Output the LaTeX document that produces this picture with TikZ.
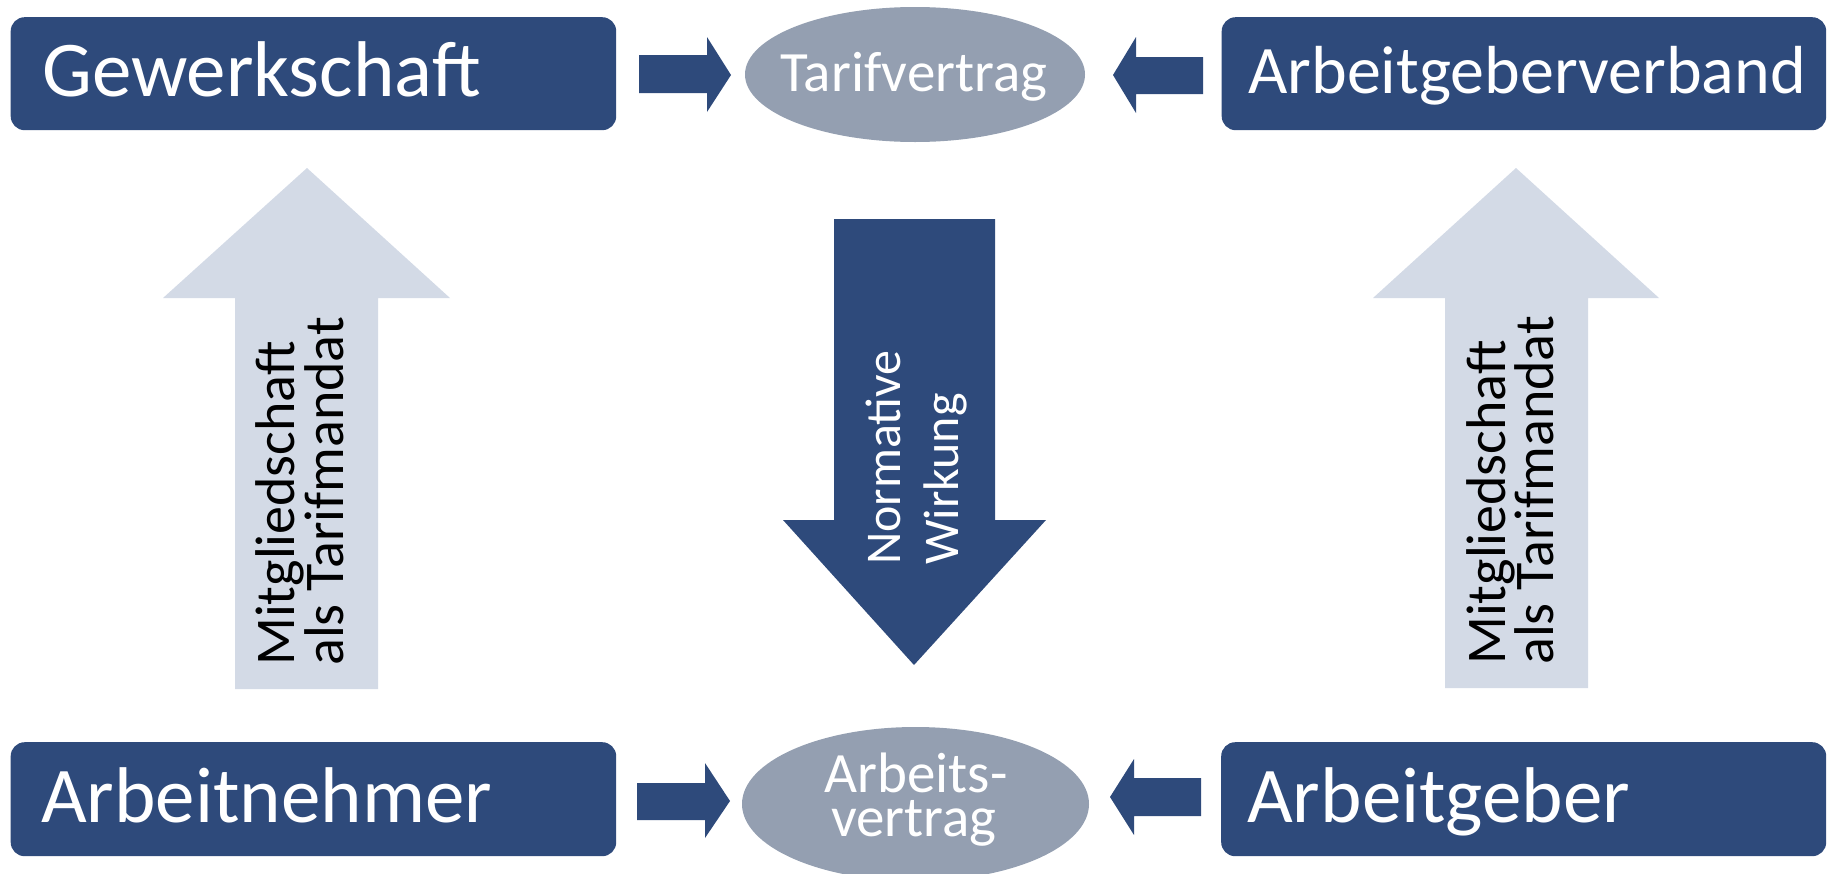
\documentclass[tikz,border=0pt]{standalone}
\usetikzlibrary{shapes.geometric}
\usepackage{fontspec}
\setmainfont{Carlito}
\definecolor{dblue}{HTML}{2E4A7B}
\definecolor{egray}{HTML}{949FB1}
\definecolor{lblue}{HTML}{D3DAE6}
\begin{document}
\begin{tikzpicture}[x=1pt,y=-1pt,
  box/.style={draw=none,fill=dblue,rounded corners=14pt,inner sep=0pt,anchor=north west},
  oval/.style={ellipse,fill=egray,inner sep=0pt},
  darrow/.style={fill=dblue},
  larrow/.style={fill=lblue},
  boxtext/.style={anchor=base west,text=white,inner sep=0pt},
  ovaltext/.style={anchor=base,text=white,inner sep=0pt,font=\fontsize{57}{57}\selectfont},
  uptext/.style={anchor=base west,rotate=90,inner sep=0pt,text=black,font=\fontsize{56}{56}\selectfont},
  downtext/.style={anchor=base west,rotate=90,inner sep=0pt,text=white,font=\fontsize{50}{50}\selectfont}]
\useasboundingbox (0,0) rectangle (1831,873);
% boxes
\node[box,minimum width=605.5pt,minimum height=113pt] (gew) at (10.5,17) {};
\node[box,minimum width=604.5pt,minimum height=113pt] (agv) at (1221.5,17) {};
\node[box,minimum width=605.5pt,minimum height=114pt] (an) at (10.5,742) {};
\node[box,minimum width=605pt,minimum height=114pt] (ag) at (1221,742) {};
\node[boxtext,font=\fontsize{79}{79}\selectfont] (gewt) at (42,96) {Gewerkschaft};
\node[boxtext,font=\fontsize{68}{68}\selectfont] (agvt) at (1248,93) {Arbeitgeberverband};
\node[boxtext,font=\fontsize{79}{79}\selectfont] (ant) at (41,822) {Arbeitnehmer};
\node[boxtext,font=\fontsize{79}{79}\selectfont] (agt) at (1247,822) {Arbeitgeber};
% ellipses
\node[oval,minimum width=340pt,minimum height=135pt] (tv) at (915,74.5) {};
\node[oval,minimum width=347pt,minimum height=154pt] (av) at (915.5,804) {};
\node[ovaltext] (tvt) at (914,91) {Tarifvertrag};
\node[ovaltext] (avt1) at (916,792) {Arbeits-};
\node[ovaltext] (avt2) at (914,836) {vertrag};
% horizontal block arrows
\path[darrow] (639,55) -- (707,55) -- (707,37) -- (731,75) -- (707,112) -- (707,93) -- (639,93) -- cycle;
\path[darrow] (1203,57) -- (1136,57) -- (1136,37) -- (1113,75) -- (1136,113) -- (1136,94) -- (1203,94) -- cycle;
\path[darrow] (637,783) -- (705,783) -- (705,763) -- (730,801) -- (705,838) -- (705,820) -- (637,820) -- cycle;
\path[darrow] (1201,778) -- (1134,778) -- (1134,759) -- (1110,797) -- (1134,835) -- (1134,816) -- (1201,816) -- cycle;
% vertical block arrows
\path[larrow] (235,689) -- (235,298) -- (163,298) -- (307,168) -- (450,298) -- (378,298) -- (378,689) -- cycle;
\path[larrow] (1445,688) -- (1445,298) -- (1373,298) -- (1516,168) -- (1659,298) -- (1588,298) -- (1588,688) -- cycle;
\path[darrow] (834,219) -- (995,219) -- (995,520) -- (1046,520) -- (914,665) -- (783,520) -- (834,520) -- cycle;
% arrow texts
\node[uptext] (m1) at (294,666) {Mitgliedschaft};
\node[uptext] (m2) at (343,666) {als Tarifmandat};
\node[uptext] (m3) at (1505,665) {Mitgliedschaft};
\node[uptext] (m4) at (1553,665) {als Tarifmandat};
\node[downtext] (n1) at (900,565) {Normative};
\node[downtext] (n2) at (958,565) {Wirkung};
\end{tikzpicture}
\end{document}
